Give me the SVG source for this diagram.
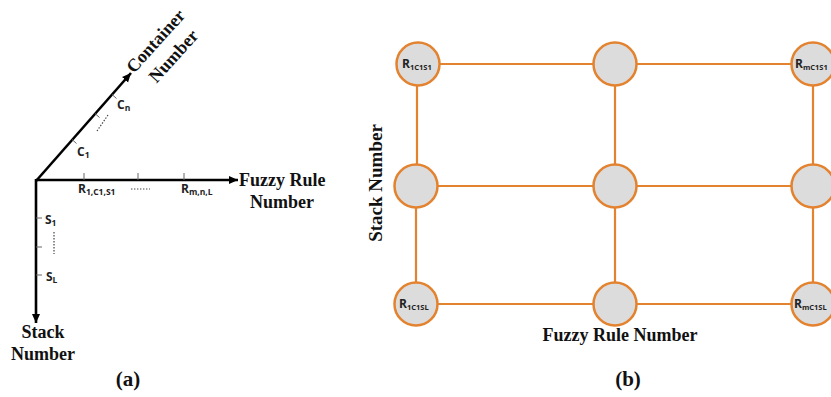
<svg xmlns="http://www.w3.org/2000/svg" width="831" height="397" viewBox="0 0 831 397">
<style>
.ax{stroke:#000;stroke-width:2.6;fill:none}
.tk{stroke:#666;stroke-width:1;fill:none}
.dot{stroke:#444;stroke-width:1.2;stroke-dasharray:1.4,1.6;fill:none}
.big{font-family:"Liberation Serif",serif;font-weight:bold;font-size:18px;fill:#111}
.cap{font-size:21px}
.sm{font-family:"Open Sans","Liberation Sans",sans-serif;font-weight:bold;font-size:12px;fill:#222}
.sub{font-size:8.5px}
.nd{fill:#DCDCDC;stroke:#E3822F;stroke-width:2.5}
.ed{stroke:#E3822F;stroke-width:2.2;fill:none}
.lb{font-family:"Open Sans","Liberation Sans",sans-serif;font-weight:bold;font-size:12px;fill:#222}
.lsub{font-size:7.5px}
</style>
<defs>
<marker id="ah" markerUnits="userSpaceOnUse" markerWidth="10" markerHeight="10" refX="9" refY="5" orient="auto">
<path d="M0,1 L9,5 L0,9 Z" fill="#000"/>
</marker>
</defs>

<!-- (a) axes -->
<g id="axes-a">
<line class="ax" x1="36" y1="180" x2="238" y2="180" marker-end="url(#ah)"/>
<line class="ax" x1="36" y1="179" x2="36" y2="323" marker-end="url(#ah)"/>
<line class="ax" x1="36" y1="181" x2="131" y2="73" marker-end="url(#ah)"/>
<line class="tk" x1="84" y1="173" x2="84" y2="180"/>
<line class="tk" x1="138" y1="173" x2="138" y2="180"/>
<line class="tk" x1="184" y1="173" x2="184" y2="180"/>
<line class="dot" x1="131" y1="189" x2="150" y2="189"/>
<line class="tk" x1="36" y1="218" x2="42" y2="218"/>
<line class="tk" x1="36" y1="247" x2="42" y2="247"/>
<line class="tk" x1="36" y1="275" x2="42" y2="275"/>
<line class="dot" x1="54" y1="232" x2="54" y2="254"/>
<line class="tk" x1="72" y1="139.5" x2="76.5" y2="143.5"/>
<line class="tk" x1="95" y1="113.5" x2="99.5" y2="117.5"/>
<line class="tk" x1="112" y1="94.5" x2="116.5" y2="98.5"/>
<line class="dot" x1="97" y1="131" x2="108" y2="115"/>
</g>
<g id="labels-a">
<text class="sm" x="78" y="193">R<tspan class="sub" dy="2">1,C1,S1</tspan></text>
<text class="sm" x="181" y="193">R<tspan class="sub" dy="2">m,n,L</tspan></text>
<text class="sm" x="45" y="224">S<tspan class="sub" dy="2">1</tspan></text>
<text class="sm" x="46" y="281">S<tspan class="sub" dy="2">L</tspan></text>
<text class="sm" x="77" y="156">C<tspan class="sub" dy="2">1</tspan></text>
<text class="sm" x="117" y="109">C<tspan class="sub" dy="2">n</tspan></text>
<text class="big" x="239" y="186">Fuzzy Rule</text>
<text class="big" x="282" y="208" text-anchor="middle">Number</text>
<text class="big" x="43" y="338" text-anchor="middle">Stack</text>
<text class="big" x="43" y="360" text-anchor="middle">Number</text>
<text class="big" transform="translate(160,45) rotate(-48)" text-anchor="middle">Container</text>
<text class="big" transform="translate(178,60) rotate(-48)" text-anchor="middle">Number</text>
<text class="big cap" x="128" y="386" text-anchor="middle">(a)</text>
</g>

<!-- (b) grid -->
<g id="connectors">
<line class="ed" x1="439" y1="64" x2="593" y2="64"/>
<line class="ed" x1="637" y1="64" x2="791" y2="64"/>
<line class="ed" x1="438" y1="186" x2="593" y2="186"/>
<line class="ed" x1="637" y1="186" x2="791" y2="186"/>
<line class="ed" x1="438" y1="304" x2="593" y2="304"/>
<line class="ed" x1="637" y1="304" x2="791" y2="304"/>
<line class="ed" x1="417" y1="86" x2="417" y2="164"/>
<line class="ed" x1="416" y1="208" x2="416" y2="282"/>
<line class="ed" x1="615" y1="86" x2="615" y2="164"/>
<line class="ed" x1="615" y1="208" x2="615" y2="282"/>
<line class="ed" x1="813" y1="86" x2="813" y2="164"/>
<line class="ed" x1="813" y1="208" x2="813" y2="282"/>
</g>
<g id="n11"><circle class="nd" cx="418" cy="64" r="21.5"/><text class="lb" x="402" y="68">R<tspan class="lsub" dy="2">1C1S1</tspan></text></g>
<g id="n21"><circle class="nd" cx="615" cy="64" r="21.5"/></g>
<g id="n31"><circle class="nd" cx="813" cy="64" r="21.5"/><text class="lb" x="795" y="68">R<tspan class="lsub" dy="2">mC1S1</tspan></text></g>
<g id="n12"><circle class="nd" cx="416" cy="186" r="21.5"/></g>
<g id="n22"><circle class="nd" cx="615" cy="186" r="21.5"/></g>
<g id="n32"><circle class="nd" cx="813" cy="186" r="21.5"/></g>
<g id="n13"><circle class="nd" cx="416" cy="304" r="21.5"/><text class="lb" x="399" y="308">R<tspan class="lsub" dy="2">1C1SL</tspan></text></g>
<g id="n23"><circle class="nd" cx="615" cy="304" r="21.5"/></g>
<g id="n33"><circle class="nd" cx="813" cy="304" r="21.5"/><text class="lb" x="794" y="308">R<tspan class="lsub" dy="2">mC1SL</tspan></text></g>
<g id="labels-b">
<text class="big" transform="translate(382,183) rotate(-90)" text-anchor="middle" style="font-size:19px">Stack Number</text>
<text class="big" x="620" y="341" text-anchor="middle">Fuzzy Rule Number</text>
<text class="big cap" x="628" y="386" text-anchor="middle">(b)</text>
</g>
</svg>
